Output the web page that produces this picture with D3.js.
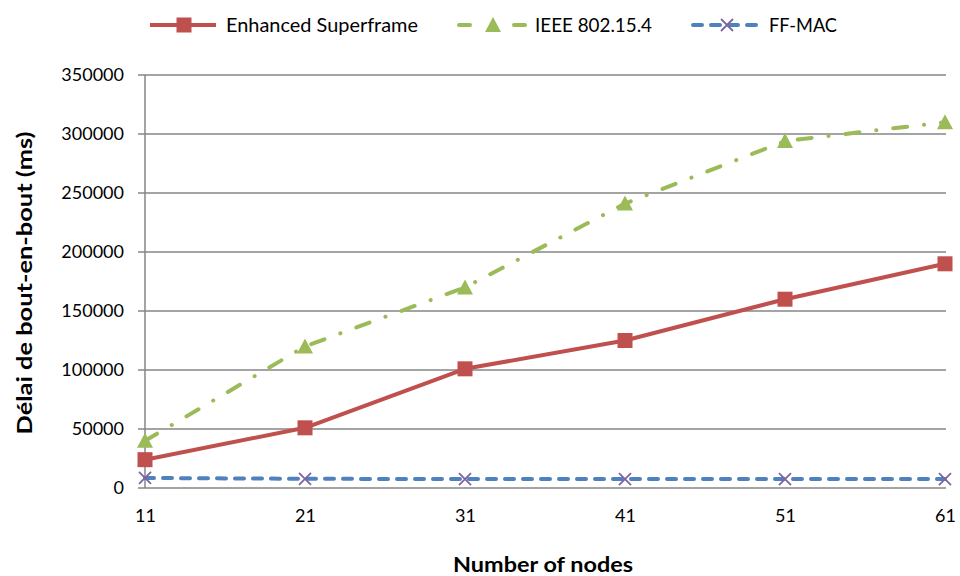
<!DOCTYPE html>
<html>
<head>
<meta charset="utf-8">
<script src="https://cdn.jsdelivr.net/npm/d3@7"></script>
<style>
  body { margin: 0; background: #fff; }
  svg { font-family: Lato, "Open Sans", sans-serif; }
</style>
</head>
<body>
<svg id="chart" width="960" height="576"></svg>
<script>
const nodes = [11, 21, 31, 41, 51, 61]
const enhanced = [24000, 51000, 101000, 125000, 160000, 190000]
const ieee = [40000, 120000, 170000, 241000, 294000, 310000]
const ffmac = [8500, 7800, 7600, 7600, 7600, 7600]
const yTicks = [0, 50000, 100000, 150000, 200000, 250000, 300000, 350000]

const series = [
  { name: 'Enhanced Superframe', values: enhanced, color: '#C0504D', dash: null, legendDash: null, marker: 'square', markerColor: '#C0504D', labelWidth: 192 },
  { name: 'IEEE 802.15.4', values: ieee, color: '#9BBB59', dash: '14 17 0.1 17', legendDash: '11 44', marker: 'triangle', markerColor: '#9BBB59', labelWidth: 117 },
  { name: 'FF-MAC', values: ffmac, color: '#4F81BD', dash: '9 9', legendDash: '9 9', marker: 'cross', markerColor: '#8064A2', labelWidth: 68 }
]

const svg = d3.select('#chart')
const x = d3.scalePoint().domain(nodes).range([145, 945])
const y = d3.scaleLinear().domain([0, 350000]).range([488, 75])

// grid
svg.append('g')
  .selectAll('line')
  .data(yTicks)
  .join('line')
    .attr('x1', 138).attr('x2', 946)
    .attr('y1', d => y(d)).attr('y2', d => y(d))
    .attr('stroke', '#868686').attr('stroke-width', 1.5)

const yAxis = svg.append('g')
  .attr('transform', 'translate(138,0)')
  .call(d3.axisLeft(y).tickValues(yTicks).tickSize(0).tickPadding(14).tickFormat(d3.format('d')))
yAxis.select('.domain').remove()
yAxis.selectAll('text').attr('font-size', 18).attr('fill', '#000').attr('font-family', 'Lato, sans-serif')

svg.append('line')
  .attr('x1', 145).attr('x2', 145).attr('y1', 75).attr('y2', 488)
  .attr('stroke', '#868686').attr('stroke-width', 1.5)

const xAxis = svg.append('g')
  .attr('transform', 'translate(0,488)')
  .call(d3.axisBottom(x).tickSize(0).tickPadding(21))
xAxis.select('.domain').remove()
xAxis.selectAll('text').attr('font-size', 18).attr('fill', '#000').attr('font-family', 'Lato, sans-serif')

svg.append('text')
  .attr('x', 543).attr('y', 572)
  .attr('text-anchor', 'middle')
  .attr('font-size', 20).attr('font-weight', 'bold')
  .attr('textLength', 180).attr('lengthAdjust', 'spacingAndGlyphs')
  .text('Number of nodes')

svg.append('text')
  .attr('transform', 'translate(32,283) rotate(-90)')
  .attr('text-anchor', 'middle')
  .attr('font-size', 20).attr('font-weight', 'bold')
  .attr('textLength', 303).attr('lengthAdjust', 'spacingAndGlyphs')
  .text('Délai de bout-en-bout (ms)')

function drawMarker (g, type, cx, cy, color) {
  if (type === 'square') {
    g.append('rect').attr('x', cx - 7.5).attr('y', cy - 7.5).attr('width', 15).attr('height', 15).attr('fill', color)
  } else if (type === 'triangle') {
    g.append('path').attr('d', `M${cx},${cy - 8}L${cx + 8},${cy + 7}L${cx - 8},${cy + 7}Z`).attr('fill', color)
  } else {
    g.append('path').attr('d', `M${cx - 6},${cy - 6}L${cx + 6},${cy + 6}M${cx - 6},${cy + 6}L${cx + 6},${cy - 6}`)
      .attr('stroke', color).attr('stroke-width', 1.8).attr('fill', 'none')
  }
}

const line = d3.line().x((d, i) => x(nodes[i])).y(d => y(d))

series.slice().reverse().forEach(s => {
  const g = svg.append('g')
  g.append('path')
    .attr('d', line(s.values))
    .attr('fill', 'none')
    .attr('stroke', s.color)
    .attr('stroke-width', 4)
    .attr('stroke-linecap', s.dash ? 'round' : 'butt')
    .attr('stroke-linejoin', 'round')
    .attr('stroke-dasharray', s.dash)
  s.values.forEach((v, i) => drawMarker(g, s.marker, x(nodes[i]), y(v), s.markerColor))
})

// legend
const legendX = [150, 459, 693]
series.forEach((s, i) => {
  const g = svg.append('g')
  const lx = legendX[i]
  g.append('line')
    .attr('x1', lx).attr('x2', lx + 66).attr('y1', 25).attr('y2', 25)
    .attr('stroke', s.color).attr('stroke-width', 4)
    .attr('stroke-linecap', s.dash ? 'round' : 'butt')
    .attr('stroke-dasharray', s.legendDash)
  drawMarker(g, s.marker, lx + 34, 25, s.markerColor)
  g.append('text')
    .attr('x', lx + 76).attr('y', 32)
    .attr('font-size', 19)
    .attr('textLength', s.labelWidth).attr('lengthAdjust', 'spacingAndGlyphs')
    .text(s.name)
})
</script>
</body>
</html>
